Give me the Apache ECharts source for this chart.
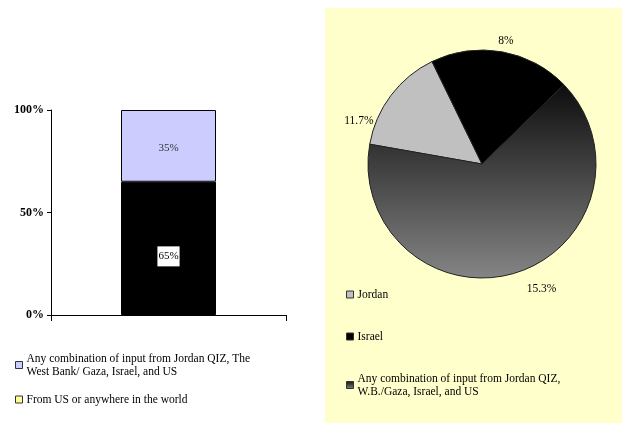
<!DOCTYPE html>
<html>
<head>
<meta charset="utf-8">
<script src="https://cdn.jsdelivr.net/npm/echarts@6/dist/echarts.min.js"></script>
<style>
  html, body { margin: 0; padding: 0; background: #fff; }
  #main { width: 624px; height: 432px; }
</style>
</head>
<body>
<div id="main"></div>
<script>
// left: stacked 100% column
const barCategories = [''];
const barSeriesNames = [
  'Other input',
  'Any combination of input from Jordan QIZ, The West Bank/ Gaza, Israel, and US',
  'From US or anywhere in the world'
];
const barValues = [[65], [35], [0]];
const barLegendText = {
  'Any combination of input from Jordan QIZ, The West Bank/ Gaza, Israel, and US':
    'Any combination of input from Jordan QIZ, The\nWest Bank/ Gaza, Israel, and US',
  'From US or anywhere in the world': 'From US or anywhere in the world'
};
const yTicks = [0, 50, 100];

// right: pie
const pieNames = ['Jordan', 'Israel', 'Any combination of input from Jordan QIZ, W.B./Gaza, Israel, and US'];
const pieValues = [15, 20, 65];
const pieLabels = ['11.7%', '8%', '15.3%'];
// nudges so the labels sit where excel put them
const pieLabelShift = [[-6, 30], [-10, -3], [4, 8]];

const serif = 'Liberation Serif, Times New Roman, serif';
const barColors = ['#000000', '#ccccff', '#ffff99'];

const chart = echarts.init(document.getElementById('main'));

const option = {
  animation: false,
  textStyle: { fontFamily: serif },
  graphic: [{
    type: 'rect',
    shape: { x: 325, y: 8, width: 297, height: 415 },
    style: { fill: '#ffffcc' },
    z: -10
  }],
  grid: { left: 51, right: 338, top: 110, bottom: 117 },
  xAxis: {
    type: 'category',
    data: barCategories,
    axisLine: { lineStyle: { color: '#000', width: 1 } },
    axisTick: { show: true, length: 6, lineStyle: { color: '#000' } },
    axisLabel: { show: false }
  },
  yAxis: {
    type: 'value',
    min: yTicks[0],
    max: yTicks[yTicks.length - 1],
    interval: 50,
    splitLine: { show: false },
    axisLine: { show: true, lineStyle: { color: '#000', width: 1 } },
    axisTick: { show: true, length: 4, lineStyle: { color: '#000' } },
    axisLabel: {
      formatter: '{value}%',
      fontFamily: serif, fontWeight: 'bold', fontSize: 12, color: '#000', margin: 7
    }
  },
  legend: [{
    orient: 'vertical',
    left: 10, top: 347,
    itemWidth: 7, itemHeight: 7, itemGap: 15,
    icon: 'rect',
    itemStyle: { borderColor: '#333', borderWidth: 1 },
    data: [barSeriesNames[1], barSeriesNames[2]],
    formatter: n => barLegendText[n],
    textStyle: { fontFamily: serif, fontSize: 11.5, color: '#000', lineHeight: 13, padding: [0, 0, 0, -1] }
  }, {
    orient: 'vertical',
    left: 341, top: 283,
    itemWidth: 7, itemHeight: 7, itemGap: 29,
    icon: 'rect',
    itemStyle: { borderColor: '#333', borderWidth: 1 },
    data: pieNames,
    formatter: n => n.replace('Jordan QIZ, ', 'Jordan QIZ,\n'),
    textStyle: { fontFamily: serif, fontSize: 11.5, color: '#000', lineHeight: 13, padding: [0, 0, 0, -1] }
  }],
  series: [
    ...barSeriesNames.map((name, i) => ({
      type: 'bar',
      name: name,
      stack: 'total',
      barWidth: 95,
      data: barValues[i],
      itemStyle: {
        color: barColors[i],
        borderColor: '#000',
        borderWidth: barValues[i][0] > 0 ? 1 : 0
      },
      label: {
        show: barValues[i][0] > 0,
        formatter: '{c}%',
        fontFamily: serif, fontSize: 11,
        color: i === 0 ? '#000' : '#333',
        backgroundColor: i === 0 ? '#fff' : 'transparent',
        padding: i === 0 ? [5, 1, 4, 1] : 0,
        offset: i === 0 ? [0, 8] : [0, 2]
      }
    })),
    {
      type: 'pie',
      center: [482, 164],
      radius: 114,
      startAngle: 170,
      clockwise: true,
      data: pieNames.map((n, i) => ({
        name: n,
        value: pieValues[i],
        label: { formatter: pieLabels[i] }
      })),
      itemStyle: { borderColor: '#222', borderWidth: 1 },
      color: [
        '#c0c0c0',
        '#000000',
        new echarts.graphic.LinearGradient(0, 0, 0, 1, [
          { offset: 0, color: '#0d0d0d' },
          { offset: 1, color: '#858585' }
        ])
      ],
      label: {
        position: 'outside',
        fontFamily: serif, fontSize: 11.5, color: '#000'
      },
      labelLine: { show: false, length: 8, length2: 0 },
      labelLayout: p => ({ dx: pieLabelShift[p.dataIndex][0], dy: pieLabelShift[p.dataIndex][1] }),
      emphasis: { disabled: true }
    }
  ]
};

chart.setOption(option);
</script>
</body>
</html>
